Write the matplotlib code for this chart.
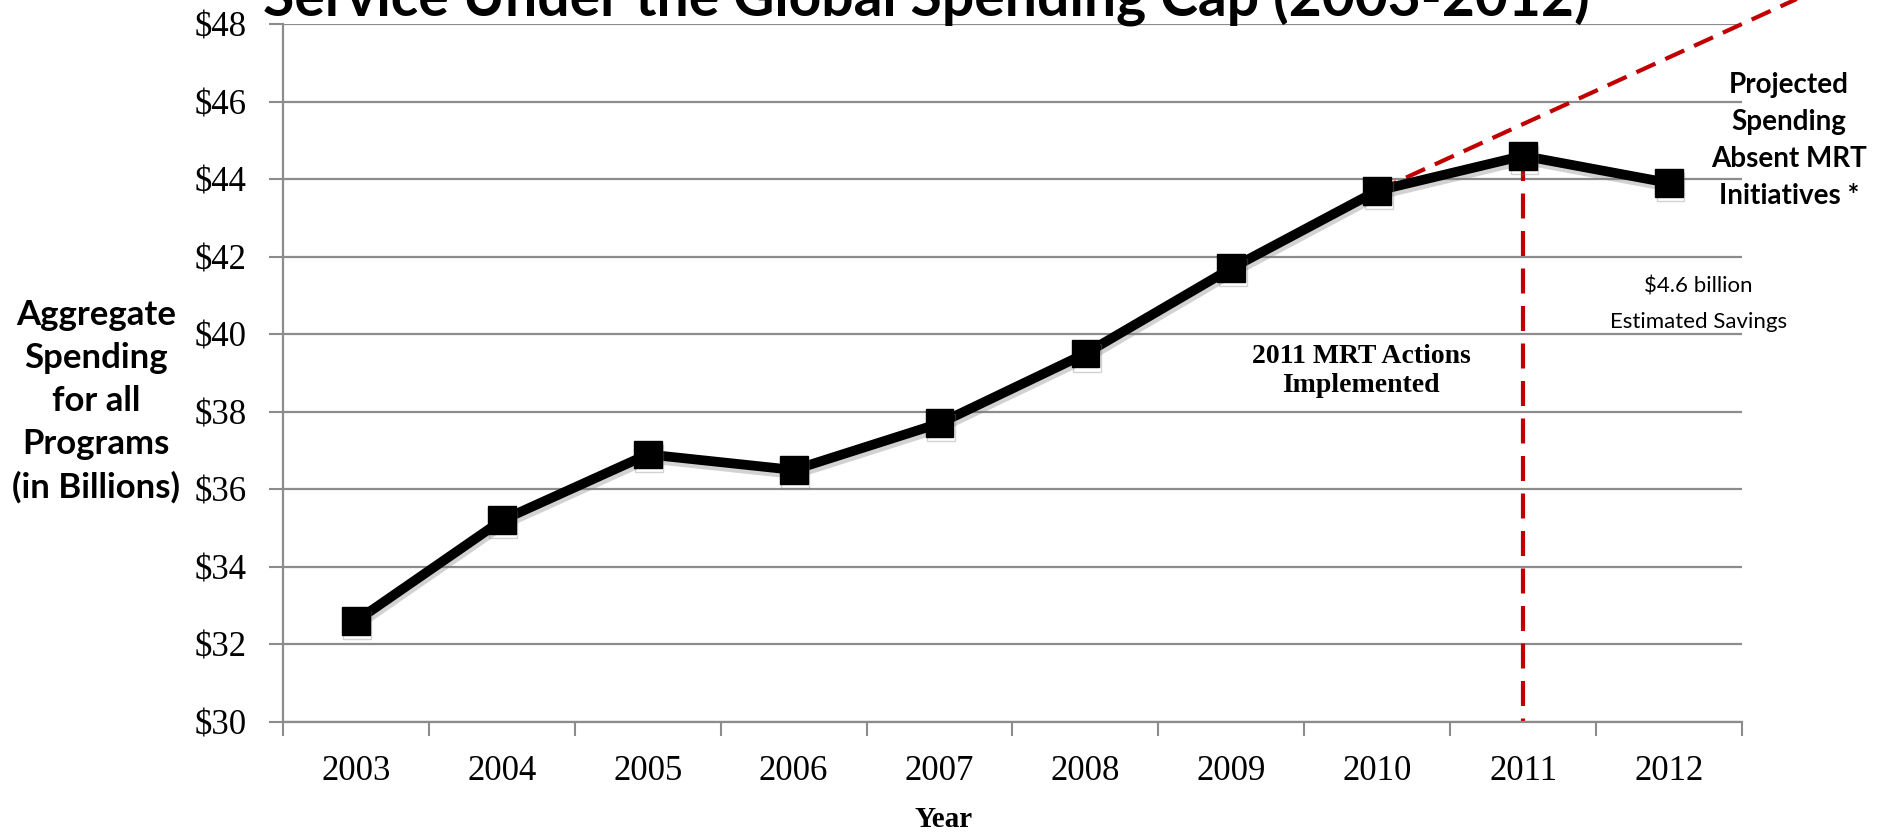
import matplotlib
matplotlib.use("Agg")
import matplotlib.pyplot as plt
import matplotlib.patheffects as pe
import numpy as np

# Medicaid spending by year, in billions
years = ["2003", "2004", "2005", "2006", "2007", "2008", "2009", "2010", "2011", "2012"]
spending = [32.6, 35.2, 36.9, 36.5, 37.7, 39.5, 41.7, 43.7, 44.6, 43.9]

# trend line without the MRT actions, 2010 through 2013
projected_x = [7, 10]
projected_y = [43.7, 48.86]

y_ticks = [30, 32, 34, 36, 38, 40, 42, 44, 46, 48]

grid_gray = "#8c8c8c"
red = "#C00000"
serif = ["Liberation Serif", "DejaVu Serif"]
sans = ["Lato", "DejaVu Sans"]

fig = plt.figure(figsize=(18.79, 8.33), dpi=100)
ax = fig.add_axes([0.1506, 0.1333, 0.7765, 0.8379])

x = np.arange(len(years))

ax.set_ylim(30, 48)
ax.set_xlim(-0.5, len(years) - 0.5)
ax.set_yticks(y_ticks)
ax.set_yticklabels([f"${v}" for v in y_ticks], family=serif, fontsize=25)
ax.yaxis.grid(True, color=grid_gray, linewidth=1.6)
ax.set_axisbelow(True)

# category boundaries get tick marks, centers get the labels
ax.set_xticks(np.arange(-0.5, len(years)))
ax.set_xticklabels([])
ax.set_xticks(x, minor=True)
ax.set_xticklabels(years, minor=True, family=serif, fontsize=25)
ax.tick_params(axis="x", which="major", length=10, width=1.5, color=grid_gray)
ax.tick_params(axis="x", which="minor", length=0, pad=24)
ax.tick_params(axis="y", length=10, width=1.5, color=grid_gray, pad=16)

for side in ["top", "right"]:
    ax.spines[side].set_visible(False)
for side in ["left", "bottom"]:
    ax.spines[side].set_color(grid_gray)
    ax.spines[side].set_linewidth(1.6)

# projected spending and the 2011 marker line
ax.plot(projected_x, projected_y, color=red, linewidth=3, dashes=(5, 2.6),
        clip_on=False, zorder=2)
ax.plot([8, 8], [spending[8], 30], color=red, linewidth=3, dashes=(6, 3), zorder=2)

ax.plot(x, spending, color="black", linewidth=7, marker="s", markersize=20,
        zorder=3,
        path_effects=[pe.SimpleLineShadow(offset=(1, -3), shadow_color="gray", alpha=0.35),
                      pe.Normal()])

fig.text(0.502, 0.0168, "Year", ha="center", va="center", family=serif,
         fontsize=21, fontweight="bold")

fig.text(0.051, 0.518, "Aggregate\nSpending\nfor all\nPrograms\n(in Billions)",
         ha="center", va="center", family=sans, fontsize=25, fontweight="bold",
         linespacing=1.42)

fig.text(0.493, 1 - 15 / 833, "Service Under the Global Spending Cap (2003-2012)",
         ha="center", va="baseline", family=sans, fontsize=41, fontweight="bold")

ax.text(9.82, 45.0, "Projected\nSpending\nAbsent MRT\nInitiatives *", ha="center",
        va="center", family=sans, fontsize=20, fontweight="bold", linespacing=1.52,
        clip_on=False)
ax.text(9.2, 40.78, "$4.6 billion\nEstimated Savings", ha="center", va="center",
        family=sans, fontsize=16, linespacing=1.95)
ax.text(6.89, 39.06, "2011 MRT Actions\nImplemented", ha="center", va="center",
        family=serif, fontsize=20, fontweight="bold", linespacing=1.2)

fig.savefig("out.png", dpi=100)
